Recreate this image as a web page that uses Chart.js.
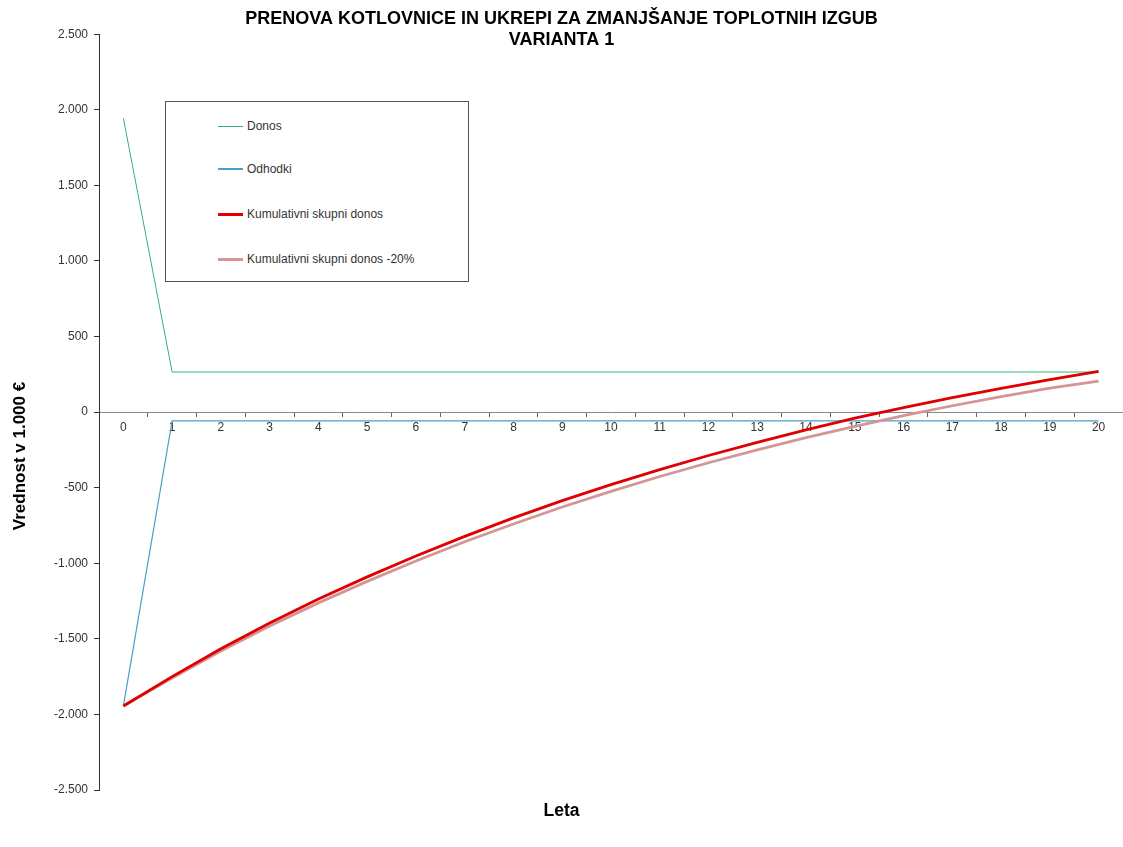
<!DOCTYPE html>
<html>
<head>
<meta charset="utf-8">
<script src="https://cdn.jsdelivr.net/npm/chart.js@4/dist/chart.umd.min.js"></script>
<style>
  body { margin: 0; background: #fff; }
  #wrap { position: relative; width: 1123px; height: 847px; }
  #legend {
    position: absolute; left: 165px; top: 101px; width: 302px; height: 179px;
    border: 1px solid #555; background: #fff;
    font-family: "Liberation Sans", Arial, sans-serif; font-size: 12px; color: #333;
  }
  .item { position: absolute; left: 52px; display: flex; align-items: center; }
  .swatch { width: 25px; margin-right: 4px; }
</style>
</head>
<body>
<div id="wrap">
  <canvas id="chart"></canvas>
  <div id="legend"></div>
</div>
<script>
// Years on the x axis
const years = ["0","1","2","3","4","5","6","7","8","9","10","11","12","13","14","15","16","17","18","19","20"];

// Values in 1.000 €
const donos = [1944, 265, 265, 265, 265, 265, 265, 265, 265, 265, 265, 265, 265, 265, 265, 265, 265, 265, 265, 265, 265];
const odhodki = [-1944, -58, -58, -58, -58, -58, -58, -58, -58, -58, -58, -58, -58, -58, -58, -58, -58, -58, -58, -58, -58];
const kumulativni = [-1944, -1750, -1565, -1395, -1237, -1090, -952, -822, -700, -586, -480, -380, -287, -200, -117, -40, 30, 95, 157, 215, 270];
const kumulativni20 = [-1944, -1760, -1580, -1415, -1262, -1120, -985, -858, -740, -628, -524, -426, -335, -250, -169, -94, -24, 42, 103, 158, 205];

const FONT = "'Liberation Sans', Arial, sans-serif";

function formatThousands(v) {
  const neg = v < 0;
  const s = String(Math.abs(v)).replace(/\B(?=(\d{3})+(?!\d))/g, ".");
  return (neg ? "-" : "") + s;
}

const datasets = [
  { label: "Donos", data: donos, borderColor: "#35b07a", borderWidth: 1, order: 4 },
  { label: "Odhodki", data: odhodki, borderColor: "#4b9fc4", borderWidth: 1.2, order: 3 },
  { label: "Kumulativni skupni donos", data: kumulativni, borderColor: "#e00000", borderWidth: 2.8, order: 1 },
  { label: "Kumulativni skupni donos -20%", data: kumulativni20, borderColor: "#d49595", borderWidth: 2.8, order: 2 },
];
datasets.forEach(d => { d.pointRadius = 0; d.tension = 0; d.fill = false; });

// y axis title sits a bit below the middle of the axis in the original
const yTitlePlugin = {
  id: "yTitle",
  afterDraw(chart) {
    const ctx = chart.ctx;
    ctx.save();
    ctx.translate(20, 456);
    ctx.rotate(-Math.PI / 2);
    ctx.font = "bold 17px " + FONT;
    ctx.fillStyle = "#000";
    ctx.textAlign = "center";
    ctx.textBaseline = "middle";
    ctx.fillText("Vrednost v 1.000 €", 0, 0);
    ctx.restore();
  },
};

const chart = new Chart(document.getElementById("chart"), {
  type: "line",
  data: { labels: years, datasets: datasets },
  plugins: [yTitlePlugin],
  options: {
    responsive: true,
    maintainAspectRatio: false,
    animation: false,
    layout: { padding: { left: 0, right: 0, top: 0, bottom: 0 } },
    plugins: {
      legend: { display: false },
      tooltip: { enabled: false },
      title: {
        display: true,
        text: ["PRENOVA KOTLOVNICE IN UKREPI ZA ZMANJŠANJE TOPLOTNIH IZGUB", "VARIANTA 1"],
        color: "#000",
        font: { family: FONT, size: 18, weight: "bold", lineHeight: 1.2 },
        padding: { top: 8, bottom: -17 },
      },
      subtitle: {
        display: true,
        position: "bottom",
        text: "Leta",
        color: "#000",
        font: { family: FONT, size: 17.5, weight: "bold", lineHeight: 1.2 },
        padding: { top: 10.5, bottom: 25.5 },
      },
    },
    scales: {
      x: {
        position: { y: 0 },
        offset: true,
        grid: { drawOnChartArea: false, drawTicks: true, tickLength: 4, offset: true, color: "#666" },
        border: { display: true, color: "#888", width: 1 },
        ticks: { color: "#333", font: { family: FONT, size: 12 }, padding: 4, maxRotation: 0, autoSkip: false },
      },
      y: {
        min: -2500,
        max: 2500,
        grid: { drawOnChartArea: false, drawTicks: true, tickLength: 5, color: "#333" },
        border: { display: true, color: "#333", width: 1 },
        ticks: {
          stepSize: 500, color: "#333", padding: 6,
          font: { family: FONT, size: 12 },
          callback: v => formatThousands(v),
        },
        afterFit: scale => { scale.width = 99; },
      },
    },
  },
});

// HTML legend inside the plot, like the original
const legendEl = document.getElementById("legend");
const itemTops = [24, 67, 112, 157];
const swatchWidths = [1, 2, 3, 3];
datasets.forEach((d, i) => {
  const item = document.createElement("div");
  item.className = "item";
  item.style.top = (itemTops[i] - 8) + "px";
  item.style.height = "16px";
  const sw = document.createElement("div");
  sw.className = "swatch";
  sw.style.borderTop = swatchWidths[i] + "px solid " + d.borderColor;
  const txt = document.createElement("span");
  txt.textContent = d.label;
  item.appendChild(sw);
  item.appendChild(txt);
  legendEl.appendChild(item);
});
</script>
</body>
</html>
